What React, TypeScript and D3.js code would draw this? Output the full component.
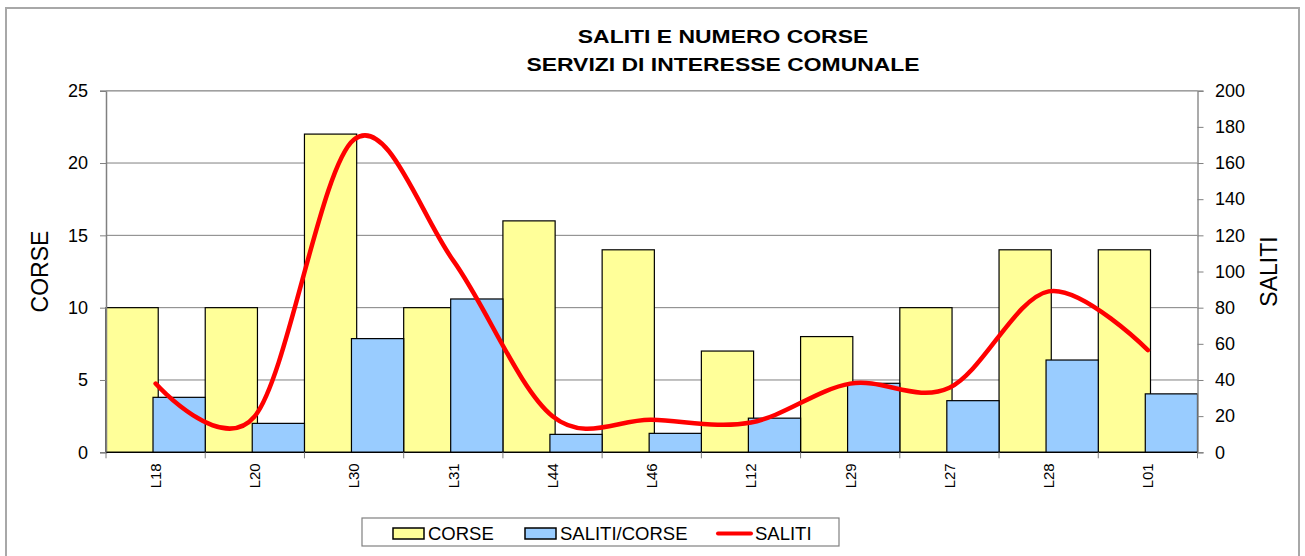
import React, { useEffect, useRef } from "react";
import * as d3 from "d3";

// data
const categories = ["L18", "L20", "L30", "L31", "L44", "L46", "L12", "L29", "L27", "L28", "L01"];
const corse = [10, 10, 22, 10, 16, 14, 7, 8, 10, 14, 14];
const salitiPerCorsa = [3.8, 2.0, 7.86, 10.6, 1.24, 1.31, 2.36, 4.77, 3.57, 6.38, 4.04];
const saliti = [38, 20, 173, 106, 20, 18, 16.5, 38, 35.7, 89, 56.5];
const leftTicks = [0, 5, 10, 15, 20, 25];
const rightTicks = [0, 20, 40, 60, 80, 100, 120, 140, 160, 180, 200];

const W = 1305;
const H = 556;
const FONT = "Arial, 'Liberation Sans', sans-serif";

const App = () => {
  const svgRef = useRef<SVGSVGElement | null>(null);

  useEffect(() => {
    const svg = d3.select(svgRef.current);
    svg.selectAll("*").remove();

    const left = 106, right = 1197.5, top = 90.7, bottom = 452.3;

    const x = d3.scaleBand<string>().domain(categories).range([left, right]).padding(0);
    const yL = d3.scaleLinear().domain([0, 25]).range([bottom, top]);
    const yR = d3.scaleLinear().domain([0, 200]).range([bottom, top]);

    // outer chart frame
    svg.append("rect")
      .attr("x", 6).attr("y", 8)
      .attr("width", 1293).attr("height", 580)
      .attr("fill", "white")
      .attr("stroke", "#a8a8a8")
      .attr("stroke-width", 2);

    // title (the original is stretched sideways)
    const title = svg.append("g").attr("transform", "translate(723,0) scale(1.24,1)");
    const tt = title.append("text")
      .attr("text-anchor", "middle")
      .attr("font-family", FONT)
      .attr("font-weight", "bold")
      .attr("font-size", 18.5)
      .attr("fill", "#000");
    tt.append("tspan").attr("x", 0).attr("y", 43.3).text("SALITI E NUMERO CORSE");
    tt.append("tspan").attr("x", 0).attr("y", 71).text("SERVIZI DI INTERESSE COMUNALE");

    // gridlines
    svg.append("g")
      .selectAll("line")
      .data(leftTicks.slice(1))
      .join("line")
      .attr("x1", left).attr("x2", right)
      .attr("y1", d => yL(d)).attr("y2", d => yL(d))
      .attr("stroke", "#808080")
      .attr("stroke-width", 1);

    const bw = x.bandwidth() / 1.9;

    // CORSE bars
    svg.append("g")
      .selectAll("rect")
      .data(categories)
      .join("rect")
      .attr("x", d => x(d)!)
      .attr("y", (d, i) => yL(corse[i]))
      .attr("width", bw)
      .attr("height", (d, i) => bottom - yL(corse[i]))
      .attr("fill", "#FFFF99")
      .attr("stroke", "#000")
      .attr("stroke-width", 1.2);

    // SALITI/CORSE bars
    svg.append("g")
      .selectAll("rect")
      .data(categories)
      .join("rect")
      .attr("x", d => x(d)! + bw * 0.9)
      .attr("y", (d, i) => yL(salitiPerCorsa[i]))
      .attr("width", bw)
      .attr("height", (d, i) => bottom - yL(salitiPerCorsa[i]))
      .attr("fill", "#99CCFF")
      .attr("stroke", "#000")
      .attr("stroke-width", 1.2);

    // left axis
    const axL = svg.append("g").attr("transform", `translate(${left},0)`)
      .call(d3.axisLeft(yL).tickValues(leftTicks).tickSize(6).tickPadding(12).tickFormat(d3.format("d")));
    axL.select(".domain").attr("stroke", "#808080").attr("stroke-width", 1.5);
    axL.selectAll(".tick line").attr("stroke", "#808080");
    axL.selectAll("text").attr("font-family", FONT).attr("font-size", 18).attr("fill", "#000");

    // right axis
    const axR = svg.append("g").attr("transform", `translate(${right},0)`)
      .call(d3.axisRight(yR).tickValues(rightTicks).tickSize(6).tickPadding(11.5).tickFormat(d3.format("d")));
    axR.select(".domain").attr("stroke", "#909090").attr("stroke-width", 1.5);
    axR.selectAll(".tick line").attr("stroke", "#808080");
    axR.selectAll("text").attr("font-family", FONT).attr("font-size", 18).attr("fill", "#000");

    // top frame line
    svg.append("line")
      .attr("x1", left).attr("x2", right).attr("y1", top).attr("y2", top)
      .attr("stroke", "#a0a0a0").attr("stroke-width", 1.5);

    // bottom axis: ticks between categories
    const bounds = categories.map(c => x(c)!).concat([right]);
    svg.append("line")
      .attr("x1", left).attr("x2", right).attr("y1", bottom).attr("y2", bottom)
      .attr("stroke", "#000").attr("stroke-width", 1.2);
    svg.append("g")
      .selectAll("line")
      .data(bounds)
      .join("line")
      .attr("x1", d => d).attr("x2", d => d)
      .attr("y1", bottom).attr("y2", bottom + 6)
      .attr("stroke", "#808080");
    svg.append("g")
      .selectAll("text")
      .data(categories)
      .join("text")
      .attr("transform", d => `translate(${x(d)! + x.bandwidth() / 2 + 5.4},${bottom + 11}) rotate(-90)`)
      .attr("text-anchor", "end")
      .attr("font-family", FONT)
      .attr("font-size", 15)
      .attr("fill", "#000")
      .text(d => d);

    // SALITI line
    const line = d3.line<number>()
      .x((d, i) => x(categories[i])! + x.bandwidth() / 2)
      .y(d => yR(d))
      .curve(d3.curveCardinal.tension(0));
    svg.append("path")
      .datum(saliti)
      .attr("d", line)
      .attr("fill", "none")
      .attr("stroke", "#FF0000")
      .attr("stroke-width", 4.5)
      .attr("stroke-linecap", "round");

    // axis titles
    svg.append("text")
      .attr("transform", `translate(48.3,${(top + bottom) / 2}) rotate(-90)`)
      .attr("text-anchor", "middle")
      .attr("font-family", FONT)
      .attr("font-size", 23)
      .text("CORSE");
    svg.append("text")
      .attr("transform", `translate(1276.7,${(top + bottom) / 2}) rotate(-90)`)
      .attr("text-anchor", "middle")
      .attr("font-family", FONT)
      .attr("font-size", 23)
      .text("SALITI");

    // legend
    const lg = svg.append("g");
    lg.append("rect")
      .attr("x", 362).attr("y", 518).attr("width", 477).attr("height", 28)
      .attr("fill", "white").attr("stroke", "#808080").attr("stroke-width", 1.2);
    const items = [
      { label: "CORSE", kind: "bar", color: "#FFFF99", x: 393 },
      { label: "SALITI/CORSE", kind: "bar", color: "#99CCFF", x: 525 },
      { label: "SALITI", kind: "line", color: "#FF0000", x: 718 },
    ];
    items.forEach(it => {
      if (it.kind === "bar") {
        lg.append("rect")
          .attr("x", it.x).attr("y", 528).attr("width", 31).attr("height", 11)
          .attr("fill", it.color).attr("stroke", "#000").attr("stroke-width", 1.5);
      } else {
        lg.append("line")
          .attr("x1", it.x).attr("x2", it.x + 33).attr("y1", 533.5).attr("y2", 533.5)
          .attr("stroke", it.color).attr("stroke-width", 4).attr("stroke-linecap", "round");
      }
      lg.append("text")
        .attr("x", it.x + (it.kind === "bar" ? 35 : 37)).attr("y", 540)
        .attr("font-family", FONT).attr("font-size", 18.5)
        .attr("fill", "#000")
        .text(it.label);
    });
  }, []);

  return (
    <svg
      ref={svgRef}
      width={W}
      height={H}
      style={{ position: "absolute", left: 0, top: 0, background: "white" }}
    />
  );
};

export default App;
